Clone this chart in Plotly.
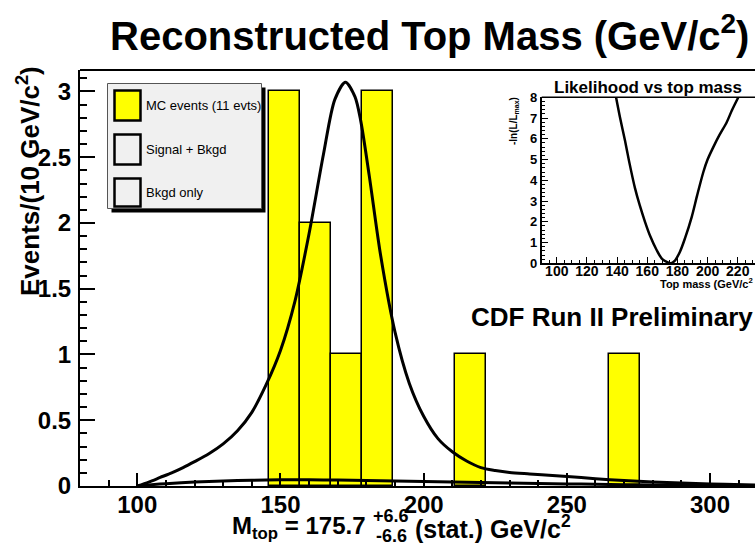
import plotly.graph_objects as go

# ---- data -------------------------------------------------------------
# MC histogram: 25 bins of 10.8 GeV/c^2 starting at 80 GeV/c^2 (non-empty bins only)
mc_bin_centers = [151.4, 162.2, 173.0, 183.8, 216.2, 270.2]
mc_counts = [3, 2, 1, 3, 1, 1]
mc_bin_width = 10.8

# Signal + background template
sig_mass = [100, 104, 108, 112, 116, 120, 125, 130, 135, 140, 145, 150, 155, 160,
            165, 169, 172.7, 176, 178, 181, 185, 190, 195, 200, 205, 210, 215, 220,
            225, 230, 237, 245, 255, 265, 275, 285, 295, 305, 316]
sig_events = [0.0, 0.03, 0.065, 0.10, 0.14, 0.185, 0.245, 0.32, 0.42, 0.56, 0.77, 1.03,
              1.40, 1.92, 2.52, 2.94, 3.07, 2.96, 2.78, 2.36, 1.75, 1.17, 0.78, 0.53,
              0.36, 0.26, 0.19, 0.14, 0.118, 0.103, 0.092, 0.080, 0.064, 0.048,
              0.036, 0.026, 0.019, 0.013, 0.008]

# Background-only template
bkg_mass = [100, 105, 110, 120, 130, 140, 150, 160, 170, 180, 190, 200, 210, 220,
            230, 240, 250, 260, 270, 280, 290, 300, 316]
bkg_events = [0.0, 0.01, 0.018, 0.03, 0.038, 0.044, 0.047, 0.047, 0.045, 0.042,
              0.038, 0.034, 0.030, 0.026, 0.022, 0.019, 0.016, 0.013, 0.010, 0.008,
              0.006, 0.004, 0.003]

# -ln(L/Lmax) scan
lik_mass = [139.3, 142, 145.2, 148, 151.9, 155, 158.5, 162, 166.2, 170, 175.7, 178,
            181.7, 185, 189.5, 193, 197.2, 200, 203.8, 208, 212.7, 216, 220.4]
lik_value = [8.0, 7.0, 5.93, 4.9, 3.61, 2.8, 2.0, 1.3, 0.64, 0.2, 0.0, 0.1, 0.56,
             1.2, 2.24, 3.25, 4.4, 5.0, 5.6, 6.2, 6.8, 7.35, 8.0]

legend_labels = ["MC events (11 evts)", "Signal + Bkgd", "Bkgd only"]

# ---- layout helpers ---------------------------------------------------
W, H = 755, 548
L, R, T, B = 80, 0, 70, 62
PW, PH = W - L - R, H - T - B


def px(x):
    return (x - L) / PW


def py(y):
    return (H - B - y) / PH


FONT = "Liberation Sans, Arial, Helvetica, sans-serif"
BLACK = "#000000"


def bold(size):
    return dict(family=FONT, size=size, color=BLACK, weight="bold")


fig = go.Figure()

fig.add_trace(go.Bar(
    x=mc_bin_centers, y=mc_counts, width=mc_bin_width,
    marker=dict(color="#ffff00", line=dict(color=BLACK, width=1.5)),
    xaxis="x", yaxis="y", showlegend=False))

fig.add_trace(go.Scatter(
    x=bkg_mass, y=bkg_events, mode="lines",
    line=dict(color=BLACK, width=3, shape="spline", smoothing=0.8),
    xaxis="x", yaxis="y", showlegend=False))

fig.add_trace(go.Scatter(
    x=sig_mass, y=sig_events, mode="lines",
    line=dict(color=BLACK, width=3, shape="spline", smoothing=0.8),
    xaxis="x", yaxis="y", showlegend=False))

fig.add_trace(go.Scatter(
    x=lik_mass, y=lik_value, mode="lines",
    line=dict(color=BLACK, width=2.5, shape="spline", smoothing=0.8),
    xaxis="x2", yaxis="y2", showlegend=False))

axis_common = dict(showgrid=False, zeroline=False, showline=True,
                   linecolor=BLACK, ticks="inside", tickcolor=BLACK)

# inset placement in pixels
IX0, IY_TOP, IY_BOT = 541.7, 97.3, 263.3

fig.update_layout(
    width=W, height=H,
    margin=dict(l=L, r=R, t=T, b=B),
    paper_bgcolor="white", plot_bgcolor="white",
    bargap=0,
    font=dict(family=FONT, color=BLACK),
    xaxis=dict(**axis_common, domain=[0, 1], range=[80, 315.7], linewidth=2,
               tick0=0, dtick=50, ticklen=13, tickwidth=1.5,
               minor=dict(dtick=10, ticklen=6, tickcolor=BLACK, ticks="inside"),
               tickfont=bold(24), ticklabelstandoff=-4),
    yaxis=dict(**axis_common, domain=[0, 1], range=[0, 3.163], linewidth=2,
               tick0=0, dtick=0.5, ticklen=15, tickwidth=1.5,
               minor=dict(dtick=0.1, ticklen=7, tickcolor=BLACK, ticks="inside"),
               tickfont=bold(24), ticklabelstandoff=2),
    xaxis2=dict(**axis_common, anchor="y2", domain=[px(IX0), 1],
                range=[90, 90 + (W - IX0) / 1.508], linewidth=1.5,
                tick0=0, dtick=20, ticklen=7, tickwidth=1,
                minor=dict(dtick=5, ticklen=4, tickcolor=BLACK, ticks="inside"),
                tickfont=bold(14), ticklabelstandoff=-6),
    yaxis2=dict(**axis_common, anchor="x2", domain=[py(IY_BOT), py(IY_TOP)],
                range=[0, 8], linewidth=1.5,
                tick0=0, dtick=1, ticklen=7, tickwidth=1,
                minor=dict(dtick=0.2, ticklen=4, tickcolor=BLACK, ticks="inside"),
                tickfont=bold(13), ticklabelstandoff=0),
)

shapes = []
# inset background and frame top
shapes.append(dict(type="rect", xref="paper", yref="paper",
                   x0=px(IX0), x1=1, y0=py(IY_BOT), y1=py(IY_TOP),
                   fillcolor="white", line=dict(width=0), layer="below"))
shapes.append(dict(type="line", xref="paper", yref="paper",
                   x0=px(IX0), x1=1, y0=py(IY_TOP), y1=py(IY_TOP),
                   line=dict(color=BLACK, width=1.5)))
# main frame top
shapes.append(dict(type="line", xref="paper", yref="paper",
                   x0=0, x1=1, y0=1, y1=1, line=dict(color=BLACK, width=2)))

# legend box with drop shadow
LX0, LX1, LY0, LY1 = 107.5, 261.5, 83.5, 208.5
shapes.append(dict(type="rect", xref="paper", yref="paper",
                   x0=px(LX0 + 4), x1=px(LX1 + 4), y0=py(LY1 + 4), y1=py(LY0 + 4),
                   fillcolor=BLACK, line=dict(width=0)))
shapes.append(dict(type="rect", xref="paper", yref="paper",
                   x0=px(LX0), x1=px(LX1), y0=py(LY1), y1=py(LY0),
                   fillcolor="#f0f0f0", line=dict(color="#555555", width=1)))

swatch_rows = [(90.5, 120.5), (134.5, 164.5), (178.5, 206.5)]
swatch_fill = ["#ffff00", "#f0f0f0", "#f0f0f0"]
annotations = []
for (y0, y1), fill, label in zip(swatch_rows, swatch_fill, legend_labels):
    shapes.append(dict(type="rect", xref="paper", yref="paper",
                       x0=px(114.5), x1=px(140.5), y0=py(y1), y1=py(y0),
                       fillcolor=fill, line=dict(color=BLACK, width=2.5)))
    annotations.append(dict(xref="paper", yref="paper", x=px(144),
                            y=py((y0 + y1) / 2), text=label, showarrow=False,
                            xanchor="left", yanchor="middle",
                            font=dict(family=FONT, size=13, color=BLACK)))

# titles and labels
annotations += [
    dict(xref="paper", yref="paper", x=px(429), y=py(33),
         text="<b>Reconstructed Top Mass (GeV/c<sup>2</sup>)</b>", showarrow=False,
         xanchor="center", yanchor="middle", font=bold(40)),
    dict(xref="paper", yref="paper", x=px(28), y=py(64),
         text="<b>Events/(10 GeV/c<sup>2</sup>)</b>", showarrow=False,
         textangle=-90, xanchor="center", yanchor="top", font=bold(26)),
    dict(xref="paper", yref="paper", x=px(368), y=py(527),
         text="<b>M<sub>top</sub> = 175.7</b>", showarrow=False,
         xanchor="right", yanchor="middle", font=bold(24)),
    dict(xref="paper", yref="paper", x=px(391), y=py(516),
         text="<b>+6.6</b>", showarrow=False, xanchor="center", yanchor="middle",
         font=bold(18)),
    dict(xref="paper", yref="paper", x=px(391), y=py(536),
         text="<b>-6.6</b>", showarrow=False, xanchor="center", yanchor="middle",
         font=bold(18)),
    dict(xref="paper", yref="paper", x=px(413), y=py(527),
         text="<b>(stat.) GeV/c<sup>2</sup></b>", showarrow=False,
         xanchor="left", yanchor="middle", font=bold(25)),
    dict(xref="paper", yref="paper", x=px(648), y=py(88),
         text="<b>Likelihood vs top mass</b>", showarrow=False,
         xanchor="center", yanchor="middle", font=bold(17)),
    dict(xref="paper", yref="paper", x=px(755), y=py(283),
         text="<b>Top mass (GeV/c<sup>2</sup></b>", showarrow=False,
         xanchor="right", yanchor="middle", font=bold(11)),
    dict(xref="paper", yref="paper", x=px(514), y=py(95),
         text="<b>-ln(L/L<sub>max</sub>)</b>", showarrow=False,
         textangle=-90, xanchor="center", yanchor="top", font=bold(10)),
    dict(xref="paper", yref="paper", x=px(612), y=py(317),
         text="<b>CDF Run II Preliminary</b>", showarrow=False,
         xanchor="center", yanchor="middle", font=bold(26)),
]

fig.update_layout(shapes=shapes, annotations=annotations)
fig.write_html("out.html")
